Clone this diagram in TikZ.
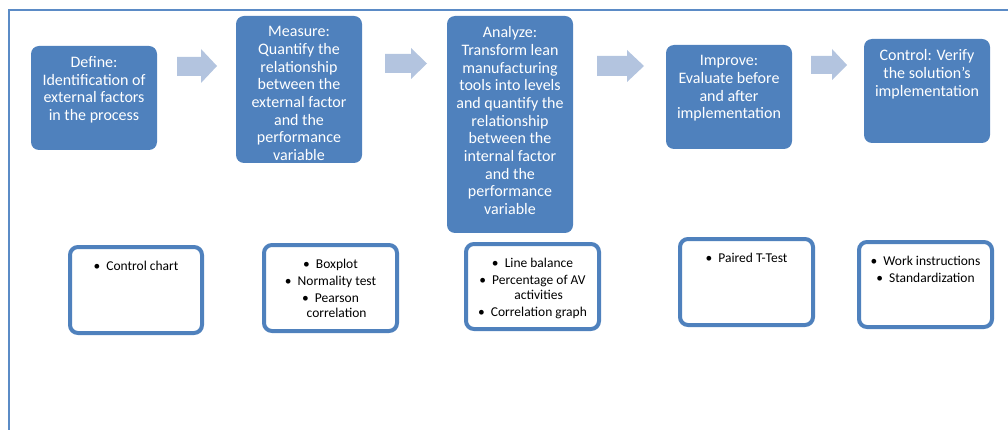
\documentclass[tikz,border=0pt]{standalone}
\usepackage{fontspec}
\setmainfont{Carlito}
\definecolor{boxblue}{HTML}{4F81BD}
\definecolor{arrowblue}{HTML}{B3C4DF}
\definecolor{framecol}{HTML}{5B8BC6}
\tikzset{
  stepbox/.style={fill=boxblue, draw=none, rounded corners=8pt, minimum width=126pt, inner sep=0pt},
  steptext/.style={anchor=north, text=white, align=center, inner sep=0pt,
    font=\fontsize{16pt}{17.7pt}\selectfont},
  toolbox/.style={fill=white, draw=boxblue, line width=4pt, rounded corners=8pt, inner sep=0pt},
  tooltext/.style={anchor=north, text=black, align=center, inner sep=0pt,
    font=\fontsize{13.5pt}{14.7pt}\selectfont},
  blockarrow/.style={fill=arrowblue, draw=none}
}
\newcommand{\itm}{\textbullet\hspace{0.45em}}
\begin{document}
\begin{tikzpicture}[x=1pt,y=-1pt]
\useasboundingbox (0,0) rectangle (1008,430);
% frame
\draw[framecol, line width=2pt] (9,431) -- (9,10) -- (1009,10);
% step boxes
\node[stepbox, minimum height=104pt] (define) at (94,98) {};
\node[stepbox, minimum height=147pt] (measure) at (299,89.5) {};
\node[stepbox, minimum height=217pt] (analyze) at (510,124.5) {};
\node[stepbox, minimum height=104pt] (improve) at (729,97) {};
\node[stepbox, minimum height=104pt] (control) at (927,91) {};
\node[steptext] (define-t) at ([yshift=-10.5pt]define.north) {Define:\\Identification of\\external factors\\in the process};
\node[steptext] (measure-t) at ([yshift=-10.5pt]measure.north) {Measure:\\Quantify the\\relationship\\between the\\external factor\\and the\\performance\\variable};
\node[steptext] (analyze-t) at ([yshift=-10.5pt]analyze.north) {Analyze:\\Transform lean\\manufacturing\\tools into levels\\and quantify the\\relationship\\between the\\internal factor\\and the\\performance\\variable};
\node[steptext] (improve-t) at ([yshift=-10.5pt]improve.north) {Improve:\\Evaluate before\\and after\\implementation};
\node[steptext] (control-t) at ([yshift=-10.5pt]control.north) {Control: Verify\\the solution's\\implementation};
% block arrows
\fill[blockarrow] (177,57) -- (201,57) -- (201,49) -- (217,66) -- (201,83) -- (201,76) -- (177,76) -- cycle;
\fill[blockarrow] (385,54) -- (411,54) -- (411,48) -- (427,63.5) -- (411,79) -- (411,73) -- (385,73) -- cycle;
\fill[blockarrow] (597,56) -- (627,56) -- (627,50) -- (644,66) -- (627,82) -- (627,76) -- (597,76) -- cycle;
\fill[blockarrow] (811,56) -- (832,56) -- (832,49) -- (847,65) -- (832,80) -- (832,74) -- (811,74) -- cycle;
% tool boxes
\node[toolbox, minimum width=132pt, minimum height=86pt] (t1) at (136,290) {};
\node[toolbox, minimum width=133pt, minimum height=86pt] (t2) at (330.5,288) {};
\node[toolbox, minimum width=133pt, minimum height=85pt] (t3) at (532.5,286.5) {};
\node[toolbox, minimum width=133pt, minimum height=86pt] (t4) at (746.5,282) {};
\node[toolbox, minimum width=133pt, minimum height=85pt] (t5) at (925.5,284.5) {};
\node[tooltext] (t1-t) at ([yshift=-16pt]t1.north) {\itm Control chart};
\node[tooltext] (t2-t) at ([yshift=-16pt]t2.north) {\itm Boxplot\\[2.3pt]\itm Normality test\\[2.3pt]\itm Pearson\\\hspace*{0.9em}correlation};
\node[tooltext] (t3-t) at ([yshift=-16pt]t3.north) {\itm Line balance\\[2.3pt]\itm Percentage of AV\\\hspace*{0.9em}activities\\[2.3pt]\itm Correlation graph};
\node[tooltext] (t4-t) at ([yshift=-16pt]t4.north) {\itm Paired T-Test};
\node[tooltext] (t5-t) at ([yshift=-16pt]t5.north) {\itm Work instructions\\[2.3pt]\itm Standardization};
\end{tikzpicture}
\end{document}
